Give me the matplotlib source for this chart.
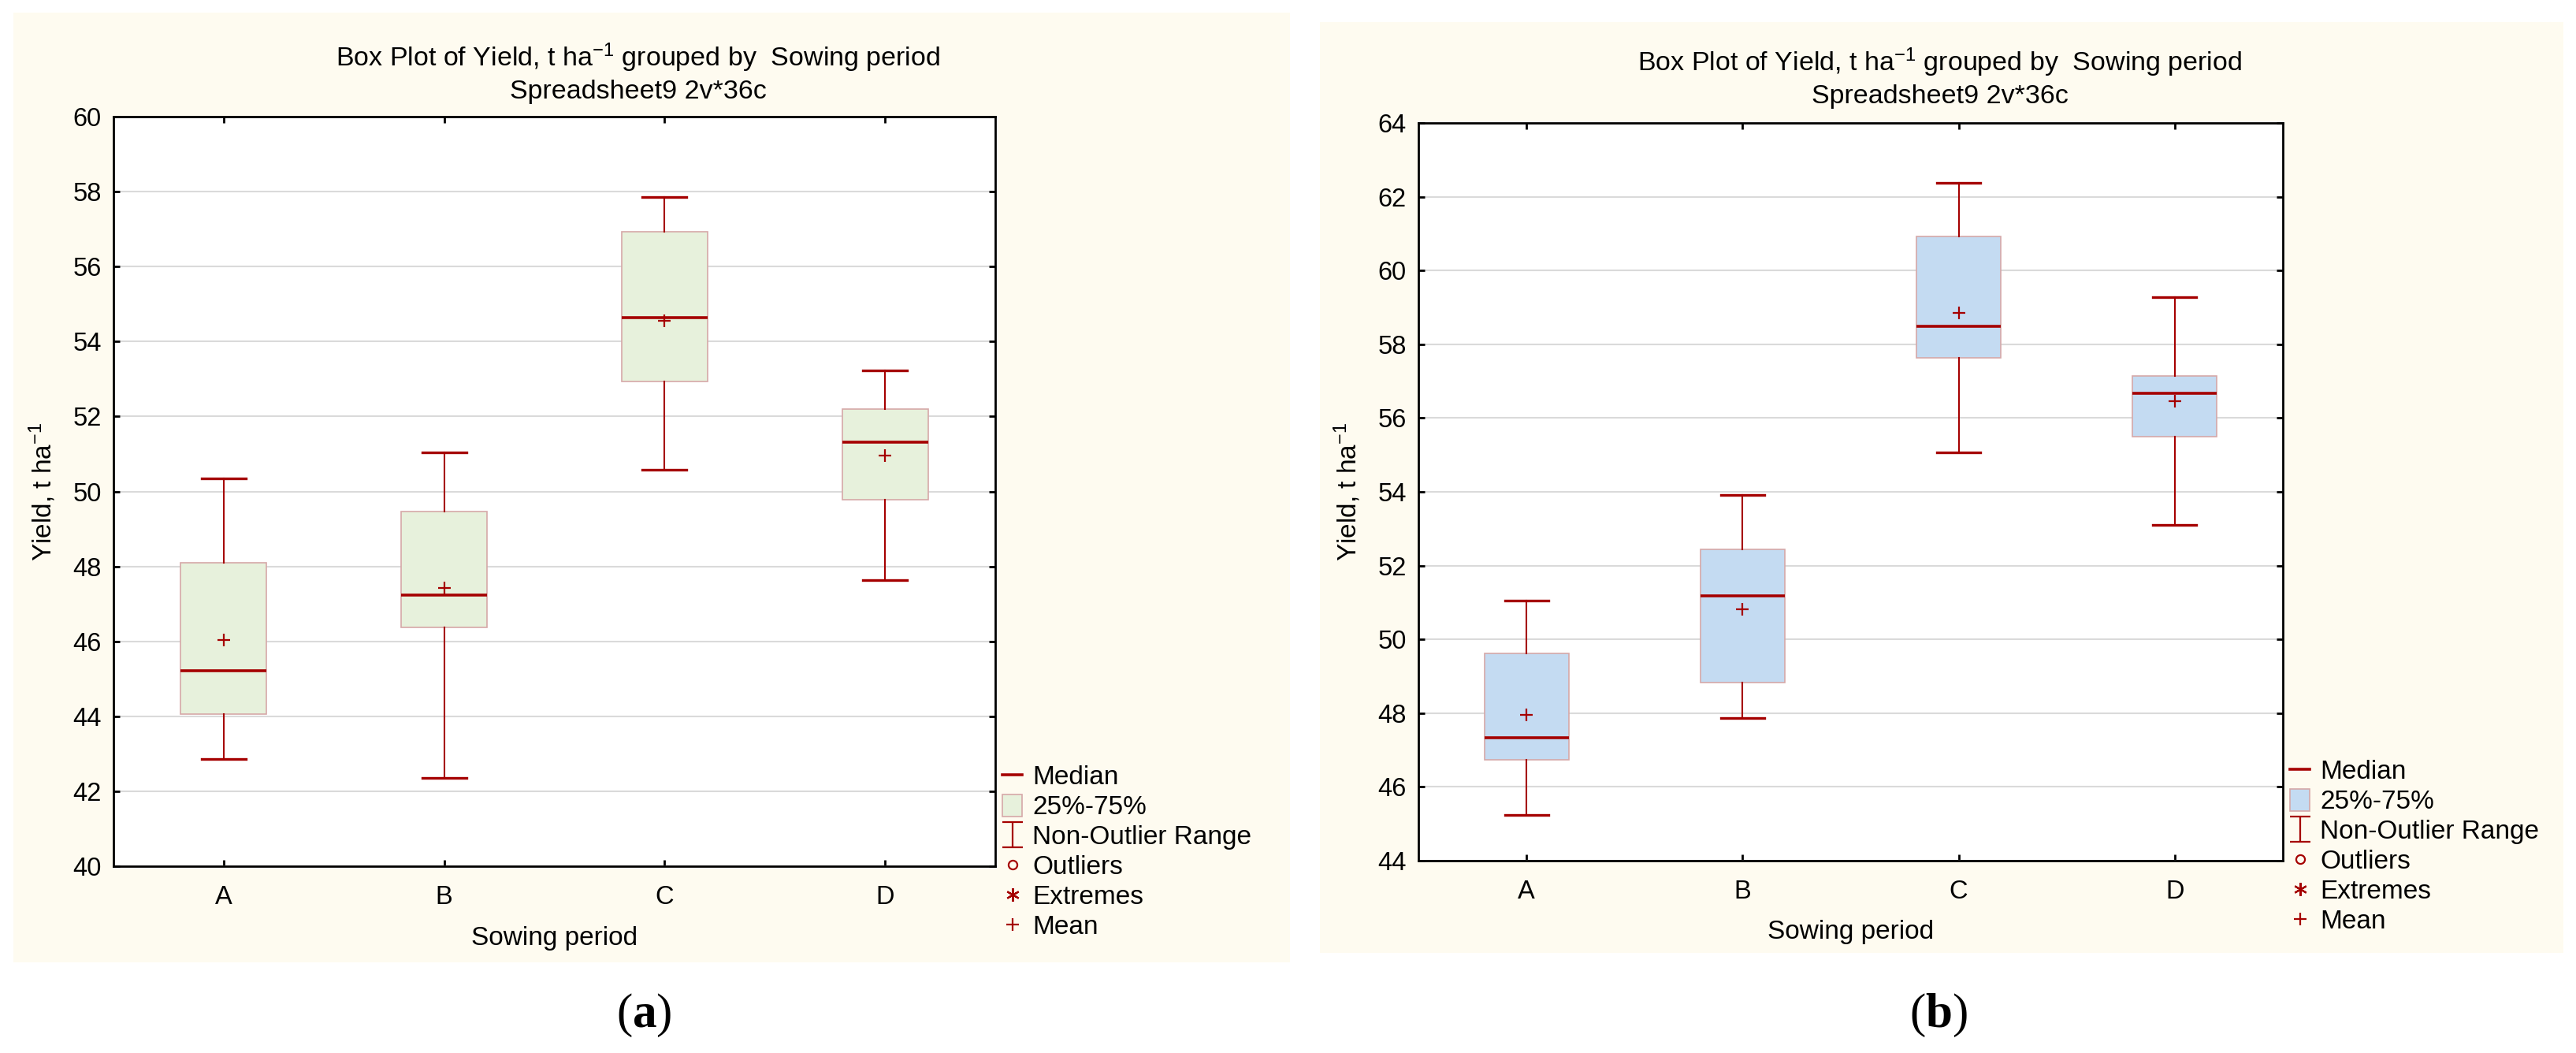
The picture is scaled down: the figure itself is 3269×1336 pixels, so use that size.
import matplotlib
matplotlib.use("Agg")
from matplotlib import pyplot as plt
from matplotlib.patches import Rectangle, Patch
from matplotlib.lines import Line2D
from matplotlib.path import Path

plt.rcParams['font.family'] = ['Liberation Sans', 'DejaVu Sans']
plt.rcParams['mathtext.fontset'] = 'custom'
plt.rcParams['mathtext.rm'] = 'Liberation Sans'
plt.rcParams['mathtext.it'] = 'Liberation Sans:italic'
plt.rcParams['mathtext.bf'] = 'Liberation Serif:bold'

W, H = 3269, 1336

categories = ['A', 'B', 'C', 'D']

# panel (a)
a_whislo = [42.87, 42.35, 50.57, 47.63]
a_q1 = [44.05, 46.38, 52.93, 49.78]
a_med = [45.22, 47.23, 54.64, 51.31]
a_q3 = [48.10, 49.47, 56.94, 52.20]
a_whishi = [50.34, 51.05, 57.86, 53.22]
a_mean = [46.03, 47.42, 54.55, 50.96]
a_yticks = list(range(40, 61, 2))

# panel (b)
b_whislo = [45.25, 47.86, 55.06, 53.11]
b_q1 = [46.73, 48.82, 57.63, 55.50]
b_med = [47.34, 51.19, 58.49, 56.67]
b_q3 = [49.63, 52.43, 60.92, 57.15]
b_whishi = [51.05, 53.92, 62.38, 59.28]
b_mean = [47.95, 50.81, 58.86, 56.45]
b_yticks = list(range(44, 65, 2))

legend_labels = ['Median', '25%-75%', 'Non-Outlier Range', 'Outliers', 'Extremes', 'Mean']

RED = '#A50000'
CREAM = '#FEFBF0'
EDGE = '#D6A8A8'

LEG_FS = 24


def fx(x):
    return x / W


def fy(y):
    return 1 - y / H


# I-shaped marker for the whisker legend entry
i_marker = Path([(-0.4, 0.5), (0.4, 0.5), (0, 0.5), (0, -0.5), (-0.4, -0.5), (0.4, -0.5)],
                [Path.MOVETO, Path.LINETO, Path.MOVETO, Path.LINETO, Path.MOVETO, Path.LINETO])


def draw_panel(fig, rect, bg, whislo, q1, med, q3, whishi, mean, yticks, fill,
               title_xy, ylabel_x, xlabel_y, legend_xy, tag, tag_x):
    fig.patches.append(Rectangle((fx(bg[0]), fy(bg[3])), fx(bg[2] - bg[0]), (bg[3] - bg[1]) / H,
                                 transform=fig.transFigure, facecolor=CREAM, edgecolor='none', zorder=-10))
    ax = fig.add_axes([fx(rect[0]), fy(rect[3]), fx(rect[2] - rect[0]), (rect[3] - rect[1]) / H])
    ax.set_facecolor('white')

    stats = []
    for i in range(len(categories)):
        stats.append(dict(whislo=whislo[i], q1=q1[i], med=med[i], q3=q3[i], whishi=whishi[i],
                          mean=mean[i], label=categories[i]))
    ax.bxp(stats, positions=[1, 2, 3, 4], widths=0.39, capwidths=0.2, patch_artist=True,
           showmeans=True, showfliers=False,
           boxprops=dict(facecolor=fill, edgecolor=EDGE, linewidth=1.2),
           medianprops=dict(color=RED, linewidth=2.6),
           whiskerprops=dict(color=RED, linewidth=1.5),
           capprops=dict(color=RED, linewidth=2.4),
           meanprops=dict(marker='+', markeredgecolor=RED, markersize=12, markeredgewidth=1.6),
           zorder=3)

    ax.set_xlim(0.5, 4.5)
    ax.set_ylim(yticks[0], yticks[-1])
    ax.set_yticks(yticks)
    ax.set_xticks([1, 2, 3, 4])
    ax.set_xticklabels(categories)
    ax.yaxis.grid(True, color='#DADADA', linewidth=1.5, zorder=0)
    ax.set_axisbelow(True)
    for s in ax.spines.values():
        s.set_linewidth(2.0)
        s.set_color('black')
    ax.tick_params(axis='both', direction='in', length=6, width=2, labelsize=23.5,
                   top=True, right=True, labelcolor='black')
    ax.tick_params(axis='y', pad=11)
    ax.tick_params(axis='x', pad=17)

    cx = title_xy[0]
    fig.text(fx(cx), fy(title_xy[1]), 'Box Plot of Yield, t ha$^{-1}$ grouped by  Sowing period',
             ha='center', va='center', fontsize=24.5)
    fig.text(fx(cx), fy(title_xy[2]), 'Spreadsheet9 2v*36c', ha='center', va='center', fontsize=24.5)
    fig.text(fx(ylabel_x), fy((rect[1] + rect[3]) / 2), 'Yield, t ha$^{-1}$', rotation=90,
             ha='center', va='center', fontsize=24)
    fig.text(fx((rect[0] + rect[2]) / 2), fy(xlabel_y), 'Sowing period', ha='center', va='center',
             fontsize=24)

    handles = [
        Line2D([], [], color=RED, linewidth=2.6),
        Patch(facecolor=fill, edgecolor=EDGE, linewidth=1.2),
        Line2D([], [], linestyle='none', marker=i_marker, markersize=23, markeredgewidth=1.6,
               color=RED),
        Line2D([], [], linestyle='none', marker='o', markersize=8, markerfacecolor='none',
               markeredgecolor=RED, markeredgewidth=1.6),
        Line2D([], [], linestyle='none', marker=(6, 2, 0), markersize=12, markeredgewidth=1.6,
               color=RED),
        Line2D([], [], linestyle='none', marker='+', markersize=12, markeredgewidth=1.6, color=RED),
    ]
    em = LEG_FS * 100 / 72
    fig.legend(handles, legend_labels, loc='upper left',
               bbox_to_anchor=(fx(legend_xy[0]), fy(legend_xy[1])), bbox_transform=fig.transFigure,
               frameon=False, fontsize=LEG_FS, handlelength=25 / em, handleheight=30 / em,
               labelspacing=(39 - em) / em, handletextpad=13 / em, borderpad=0, borderaxespad=0)

    fig.text(fx(tag_x), fy(1288), '($\\mathbf{' + tag + '}$)', ha='center', va='center',
             fontsize=44, family='Liberation Serif')
    return ax


fig = plt.figure(figsize=(W / 100, H / 100), dpi=100, facecolor='white')

draw_panel(fig, (144, 148, 1263, 1099), (17, 16, 1637, 1221),
           a_whislo, a_q1, a_med, a_q3, a_whishi, a_mean, a_yticks, '#E7F1DC',
           (810, 73, 117), 54, 1190, (1272, 970), 'a', 817)

draw_panel(fig, (1800, 156, 2897, 1092), (1675, 28, 3253, 1209),
           b_whislo, b_q1, b_med, b_q3, b_whishi, b_mean, b_yticks, '#C4DBF2',
           (2462, 79, 123), 1710, 1182, (2906, 963), 'b', 2460)

fig.savefig('out.png', dpi=100, facecolor='white')
